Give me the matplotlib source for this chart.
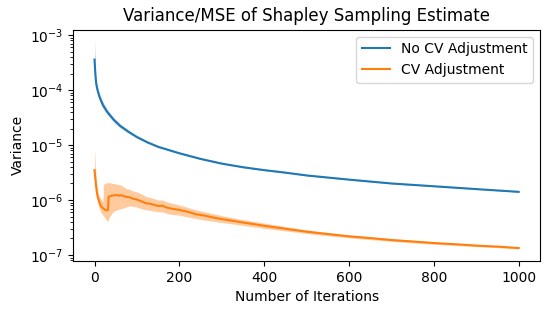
import numpy as np
import matplotlib.pyplot as plt

# values (iteration, variance)
it_nocv = [0, 2, 4, 7, 12, 20, 30, 45, 60, 80, 100, 125, 150, 200, 250, 300,
           350, 400, 450, 500, 600, 700, 800, 900, 999]
var_nocv = [3.6e-4, 1.9e-4, 1.3e-4, 1.0e-4, 7.4e-5, 5.3e-5, 4.0e-5, 2.9e-5,
            2.25e-5, 1.75e-5, 1.4e-5, 1.12e-5, 9.3e-6, 7.1e-6, 5.6e-6, 4.6e-6,
            3.95e-6, 3.5e-6, 3.15e-6, 2.8e-6, 2.35e-6, 2.0e-6, 1.78e-6,
            1.58e-6, 1.41e-6]
lo_nocv = [2.6e-4, 1.5e-4, 1.1e-4, 8.6e-5, 6.4e-5, 4.7e-5, 3.6e-5, 2.65e-5,
           2.07e-5, 1.64e-5, 1.33e-5, 1.07e-5, 8.95e-6, 6.88e-6, 5.45e-6, 4.5e-6,
           3.87e-6, 3.43e-6, 3.09e-6, 2.75e-6, 2.31e-6, 1.97e-6, 1.75e-6,
           1.56e-6, 1.39e-6]
hi_nocv = [8.0e-4, 2.6e-4, 1.6e-4, 1.17e-4, 8.5e-5, 6.0e-5, 4.45e-5, 3.15e-5,
           2.42e-5, 1.86e-5, 1.47e-5, 1.17e-5, 9.65e-6, 7.3e-6, 5.75e-6, 4.7e-6,
           4.03e-6, 3.57e-6, 3.21e-6, 2.85e-6, 2.39e-6, 2.03e-6, 1.81e-6,
           1.6e-6, 1.43e-6]

it_cv = [0, 2, 4, 6, 8, 10, 13, 16, 20, 21, 24, 28, 30, 32, 33, 36, 40, 45,
         52, 58, 64, 70, 76, 83, 90, 100, 110, 122, 130, 140, 150, 160, 170,
         180, 190, 200, 220, 240, 260, 280, 300, 350, 400, 450, 500, 550, 600,
         650, 700, 750, 800, 850, 900, 950, 999]
var_cv = [3.5e-6, 2.4e-6, 1.7e-6, 1.3e-6, 1.1e-6, 1.0e-6, 0.85e-6, 0.76e-6,
          0.71e-6, 0.70e-6, 0.67e-6, 0.65e-6, 0.65e-6, 0.66e-6, 1.15e-6,
          1.17e-6, 1.2e-6, 1.22e-6, 1.23e-6, 1.2e-6, 1.22e-6, 1.17e-6,
          1.14e-6, 1.12e-6, 1.06e-6, 1.02e-6, 0.95e-6, 0.87e-6, 0.86e-6,
          0.82e-6, 0.78e-6, 0.79e-6, 0.73e-6, 0.70e-6, 0.68e-6, 0.66e-6,
          0.61e-6, 0.55e-6, 0.52e-6, 0.48e-6, 0.45e-6, 0.39e-6, 0.34e-6,
          0.30e-6, 0.265e-6, 0.24e-6, 0.218e-6, 0.203e-6, 0.187e-6, 0.176e-6,
          0.165e-6, 0.157e-6, 0.148e-6, 0.142e-6, 0.134e-6]
lo_cv = [2.4e-6, 1.8e-6, 1.3e-6, 1.0e-6, 0.85e-6, 0.75e-6, 0.65e-6, 0.58e-6,
         0.53e-6, 0.52e-6, 0.48e-6, 0.43e-6, 0.41e-6, 0.42e-6, 0.45e-6,
         0.5e-6, 0.56e-6, 0.62e-6, 0.66e-6, 0.68e-6, 0.7e-6, 0.72e-6,
         0.76e-6, 0.78e-6, 0.77e-6, 0.74e-6, 0.7e-6, 0.66e-6, 0.65e-6,
         0.63e-6, 0.61e-6, 0.61e-6, 0.57e-6, 0.55e-6, 0.54e-6, 0.53e-6,
         0.49e-6, 0.46e-6, 0.43e-6, 0.41e-6, 0.39e-6, 0.345e-6, 0.305e-6,
         0.274e-6, 0.246e-6, 0.224e-6, 0.205e-6, 0.19e-6, 0.177e-6, 0.166e-6,
         0.157e-6, 0.149e-6, 0.142e-6, 0.136e-6, 0.129e-6]
hi_cv = [9.0e-6, 4.0e-6, 2.5e-6, 1.8e-6, 1.45e-6, 1.25e-6, 1.1e-6, 1.0e-6,
         0.95e-6, 1.9e-6, 2.0e-6, 2.05e-6, 2.1e-6, 2.0e-6, 2.05e-6, 2.1e-6,
         2.0e-6, 2.0e-6, 1.95e-6, 1.9e-6, 1.85e-6, 1.7e-6, 1.6e-6, 1.55e-6,
         1.47e-6, 1.4e-6, 1.3e-6, 1.15e-6, 1.12e-6, 1.06e-6, 1.0e-6,
         1.0e-6, 0.93e-6, 0.88e-6, 0.85e-6, 0.81e-6, 0.73e-6, 0.66e-6,
         0.61e-6, 0.56e-6, 0.52e-6, 0.44e-6, 0.38e-6, 0.328e-6, 0.286e-6,
         0.257e-6, 0.232e-6, 0.215e-6, 0.198e-6, 0.185e-6, 0.173e-6,
         0.164e-6, 0.155e-6, 0.148e-6, 0.14e-6]

fig, ax = plt.subplots(figsize=(5.47, 3.14), dpi=100)
fig.subplots_adjust(left=0.134, right=0.987, top=0.905, bottom=0.169)

ax.plot(it_nocv, var_nocv, color='C0', lw=1.5, label='No CV Adjustment')
ax.fill_between(it_nocv, lo_nocv, hi_nocv, color='C0', alpha=0.4, lw=0)
ax.plot(it_cv, var_cv, color='C1', lw=1.5, label='CV Adjustment')
ax.fill_between(it_cv, lo_cv, hi_cv, color='C1', alpha=0.4, lw=0)

ax.set_yscale('log')
ax.set_ylim(7.8e-8, 1.25e-3)
ax.set_xlim(-50, 1049)
ax.set_title('Variance/MSE of Shapley Sampling Estimate')
ax.set_xlabel('Number of Iterations')
ax.set_ylabel('Variance')
ax.legend(loc='upper right')

fig.savefig('out.png')
